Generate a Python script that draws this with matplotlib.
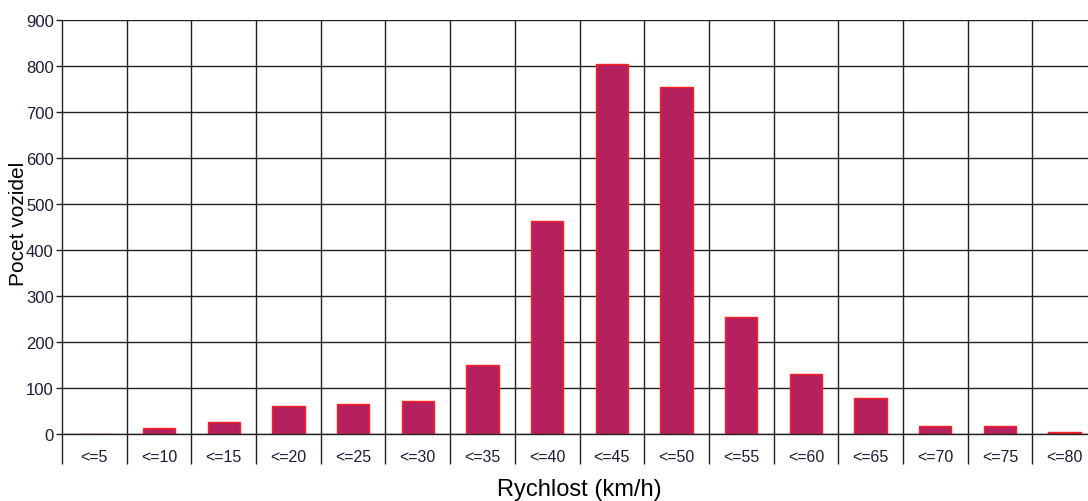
import numpy as np
import matplotlib.pyplot as plt

plt.rcParams['font.family'] = ['Liberation Sans', 'DejaVu Sans']

categories = ["<=5", "<=10", "<=15", "<=20", "<=25", "<=30", "<=35", "<=40",
              "<=45", "<=50", "<=55", "<=60", "<=65", "<=70", "<=75", "<=80"]
counts = [0, 13, 27, 60, 65, 72, 150, 462, 805, 755, 255, 130, 78, 18, 18, 5]
y_ticks = [0, 100, 200, 300, 400, 500, 600, 700, 800, 900]

fig = plt.figure(figsize=(10.88, 5.02), dpi=100)
ax = fig.add_axes([62 / 1088, 67 / 502, 1035 / 1088, 414 / 502])

x = np.arange(len(categories))
ax.bar(x, counts, width=0.5, color="#B5205E", edgecolor="#FF2020", linewidth=1, zorder=3)

ax.set_xlim(-0.5, len(categories) - 0.5)
ax.set_ylim(0, 900)
ax.set_yticks(y_ticks)
ax.set_yticklabels([str(v) for v in y_ticks], fontsize=12, color="#1c1c36")
ax.yaxis.grid(True, color="#222222", linewidth=1, zorder=1)
ax.tick_params(axis="y", length=4, width=1, color="#222222", pad=2)

# category separators, running below the axis
sep = np.arange(len(categories) + 1) - 0.5
ax.vlines(sep, -65, 900, color="#222222", linewidth=1, clip_on=False, zorder=1)

ax.set_xticks(x)
ax.set_xticklabels(categories, fontsize=11.5, color="#1c1c36")
ax.tick_params(axis="x", length=0, pad=11)

for s in ax.spines.values():
    s.set_visible(False)
ax.axhline(0, color="#222222", linewidth=1, zorder=4, clip_on=False)

ax.set_xlabel("Rychlost (km/h)", fontsize=17, labelpad=10)
fig.text(19 / 1088, 1 - 224 / 502, "Pocet vozidel", rotation=90, fontsize=15,
         ha="center", va="center")

fig.savefig("out.png", dpi=100)
